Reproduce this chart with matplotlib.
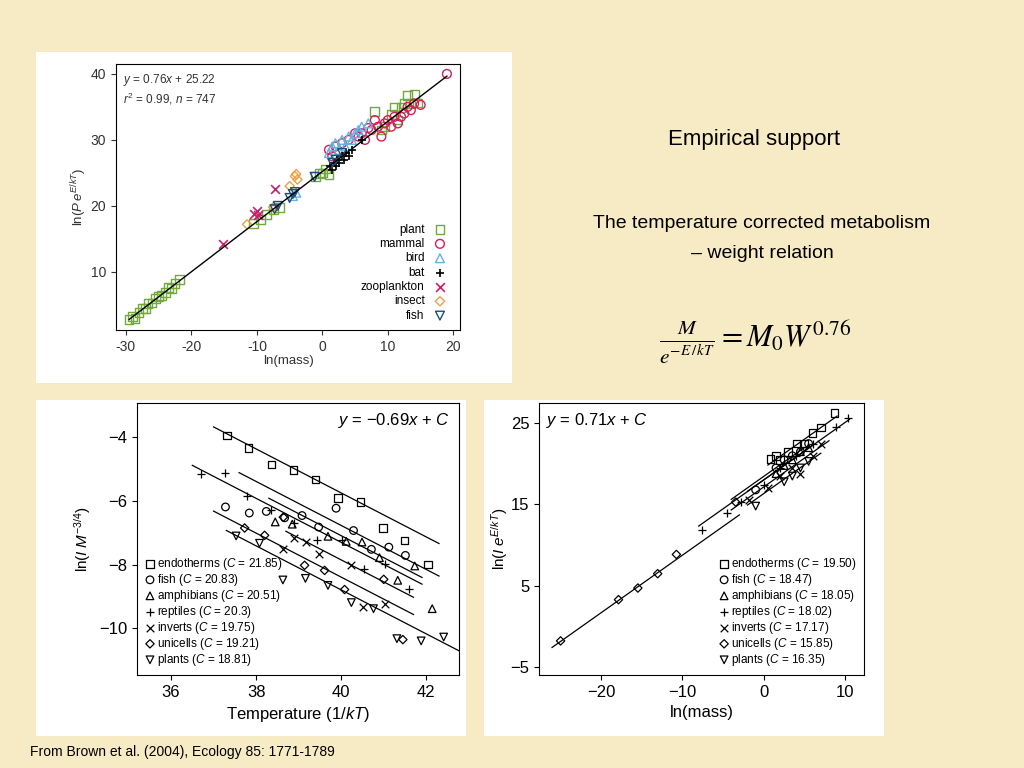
import matplotlib
matplotlib.use("Agg")
import matplotlib.pyplot as plt
import numpy as np

plt.rcParams['font.family'] = ['Liberation Sans', 'DejaVu Sans']
plt.rcParams['mathtext.fontset'] = 'custom'
plt.rcParams['mathtext.rm'] = 'Liberation Sans'
plt.rcParams['mathtext.it'] = 'Liberation Sans:italic'
plt.rcParams['axes.unicode_minus'] = False

# ---- Top panel data ----
top_groups = ["plant", "mammal", "bird", "bat", "zooplankton", "insect", "fish"]
plant_x = [-29.5,-29,-28.6,-28,-27.5,-27,-26.6,-26,-25.5,-25,-24.6,-24,-23.5,-23,-22.5,-21.8,-10.5,-9.5,-8.5,-7.5,-6.5,-1,-0.5,0,0.5,1,9.5,10.5,11,11.5,12,12.5,13,13.5,14,14.5,8,9]
plant_y = [2.8,3.3,3.0,3.9,4.5,4.4,5.2,5.3,6.0,6.3,6.4,6.9,7.6,7.5,8.2,8.9,17.3,17.9,18.7,19.4,19.8,24.5,24.9,25.0,25.6,24.8,32.0,33.8,35.0,33.0,34.9,35.5,36.7,35.5,36.9,35.6,34.3,31.5]
mammal_x = [1,1.5,2,3,4,5,5.5,6,6.5,7,7.5,8,8.5,9,9.5,10,10.5,11,11.5,12,12.5,13,13.5,14,15,19]
mammal_y = [28.5,27.5,29,29.5,30,31,30.5,31,30,31.8,31.5,33,32,30.5,32.5,33,32,33.5,32.5,33.5,34,35,34.5,35.5,35.3,40.0]
bird_x = [-4.5,-4,1,1.5,2,2.5,3,3.5,4,4.5,5,5.5,6,7]
bird_y = [21.5,22,28,29,29.5,28.5,30,29,30.5,30,31,31.5,32,32.5]
bat_x = [1.2,1.5,1.8,2,2.3,2.6,3,3.3,3.6,4,4.5,6]
bat_y = [26,25.5,26.5,26,27,26.5,27.5,27,28,27.5,28.5,30]
zoo_x = [-15.2,-10.5,-10,-9.8,-7.3]
zoo_y = [14.2,18.8,19.3,18.6,22.5]
insect_x = [-11.5,-7.5,-5,-4.2,-4,-3.8]
insect_y = [17.2,19.8,23.0,24.5,24.8,24.0]
fish_x = [-7.3,-6.8,-5,-4.5,-4.2,-1.2,1.5,2,3]
fish_y = [19.5,20.0,21.2,21.8,22.1,24.4,26.5,27,28]
top_slope, top_int = 0.76, 25.22

# ---- Bottom-left data (temperature) ----
bl_labels = ["endotherms", "fish", "amphibians", "reptiles", "inverts", "unicells", "plants"]
bl_C = [21.85, 20.83, 20.51, 20.3, 19.75, 19.21, 18.81]
bl_x = [
    [37.31,37.82,38.36,38.88,39.40,39.93,40.45,40.98,41.49,42.04],
    [37.28,37.84,38.24,38.67,39.08,39.47,39.88,40.29,40.71,41.12,41.51],
    [38.45,38.85,39.69,40.12,40.49,40.90,41.33,41.73,42.14],
    [36.71,37.28,37.79,38.34,38.88,39.43,40.02,40.53,41.04,41.59],
    [38.63,38.90,39.18,39.47,40.24,40.51,41.04],
    [37.73,38.20,38.64,39.14,39.61,40.08,41.00,41.45],
    [37.53,38.08,38.63,39.16,39.69,40.24,40.76,41.31,41.88,42.41],
]
bl_y = [
    [-3.95,-4.35,-4.86,-5.04,-5.33,-5.91,-6.03,-6.85,-7.24,-7.99],
    [-6.19,-6.38,-6.33,-6.53,-6.46,-6.82,-6.23,-6.93,-7.52,-7.45,-7.71],
    [-6.66,-6.73,-7.11,-7.27,-7.29,-7.78,-8.49,-8.04,-9.38],
    [-5.17,-5.13,-5.86,-6.30,-6.69,-7.22,-7.24,-8.15,-7.97,-8.75],
    [-7.52,-7.15,-7.29,-7.68,-8.02,-9.32,-9.22],
    [-6.85,-7.08,-6.51,-8.02,-8.18,-8.78,-8.46,-10.35],
    [-7.10,-7.33,-8.48,-8.43,-8.65,-9.19,-9.38,-10.32,-10.39,-10.27],
]
bl_range = [(37.0,42.3),(37.6,42.3),(38.3,41.9),(36.5,41.9),(38.7,41.7),(37.0,41.7),(37.3,42.8)]
bl_slope = -0.69

# ---- Bottom-right data (mass) ----
br_C = [19.50, 18.47, 18.05, 18.02, 17.17, 15.85, 16.35]
br_x = [
    [0.8,1.5,2,3,4,5,6,7,8.7],
    [-1,1.5,2.5,3.5,4.5,5.5],
    [1.5,2.5,3.5,4.5,5.5],
    [-7.56,-4.48,-2.84,0.04,2,4,6,8.88,10.3],
    [-1.8,0.5,2,3.5,4.5,6,7],
    [-24.95,-17.84,-15.46,-13.03,-10.73,-3.45],
    [-1,2.5,3.5,4.5,5.5],
]
br_y = [
    [20.6,21.0,20.5,21.5,22.5,22.5,23.8,24.5,26.3],
    [16.8,19.5,20.5,21.0,21.5,22.5],
    [18.8,19.8,20.5,21.5,22],
    [11.89,13.93,15.29,17.34,19.5,21,22.5,24.51,25.6],
    [15.5,17.0,18.5,19.5,18.8,21,22.5],
    [-1.80,3.28,4.71,6.48,8.85,15.29],
    [14.8,17.8,18.5,19.5,20.3],
]
br_range = [(0.5,9),(-4,5),(-2,6),(-8,10.5),(-4,8),(-26,-3),(-2,7)]
br_slope = 0.71

markers_bw = ['s','o','^','+','x','D','v']

fig = plt.figure(figsize=(10.24,7.68), dpi=100)
fig.patch.set_facecolor('#f7ebc6')
W, H = 1024, 768
def rect(x0,y0,x1,y1):
    return [x0/W, 1-y1/H, (x1-x0)/W, (y1-y0)/H]

for (x0,y0,x1,y1) in [(36,52,512,383),(36,400,466,736),(484,400,884,736)]:
    bg = fig.add_axes(rect(x0,y0,x1,y1)); bg.set_facecolor('white')
    bg.set_xticks([]); bg.set_yticks([])
    for s in bg.spines.values(): s.set_visible(False)

# ---- Top panel ----
ax = fig.add_axes(rect(116,64,460,330))
xs = np.array([-29.5, 19])
ax.plot(xs, top_slope*xs+top_int, color='black', lw=1)
specs = [
    (plant_x, plant_y, 's', '#72a93a'),
    (mammal_x, mammal_y, 'o', '#d21f5c'),
    (bird_x, bird_y, '^', '#66b2e0'),
    (bat_x, bat_y, '+', 'black'),
    (zoo_x, zoo_y, 'x', '#c8206a'),
    (insect_x, insect_y, 'D', '#e8a34a'),
    (fish_x, fish_y, 'v', '#1d4f7a'),
]
for (x, y, m, c), lab in zip(specs, top_groups):
    if m in ('+','x'):
        ax.scatter(x, y, marker=m, color=c, s=40, lw=1.2, label=lab)
    else:
        ax.scatter(x, y, marker=m, facecolors='none', edgecolors=c, s=22 if m == 'D' else 40, lw=1, label=lab)
ax.set_xlim(-31.5, 21); ax.set_ylim(1.2, 41.5)
ax.set_xticks([-30,-20,-10,0,10,20]); ax.set_yticks([10,20,30,40])
ax.tick_params(labelsize=10, colors='#333333')
ax.set_xlabel('ln(mass)', fontsize=9.5, color='#333333', labelpad=1)
ax.set_ylabel(r'ln($P\,e^{E/kT}$)', fontsize=9.5, color='#333333', labelpad=1)
ax.text(0.02, 0.97, r'$y$ = 0.76$x$ + 25.22', transform=ax.transAxes, fontsize=8.5, va='top', color='#333333')
ax.text(0.02, 0.90, r'$r^2$ = 0.99, $n$ = 747', transform=ax.transAxes, fontsize=8.5, va='top', color='#333333')
ax.legend(loc='lower right', markerfirst=False, frameon=False, fontsize=8.5,
          handletextpad=0.3, labelspacing=0.2, borderaxespad=0.3)

# ---- Bottom-left ----
ax2 = fig.add_axes(rect(137,403,459,675))
for lab, C, x, y, (a,b), m in zip(bl_labels, bl_C, bl_x, bl_y, bl_range, markers_bw):
    xx = np.array([a,b])
    ax2.plot(xx, bl_slope*xx+C, color='black', lw=0.9)
    lbl = f'{lab} ($C$ = {C})'
    if m in ('+','x'):
        ax2.scatter(x, y, marker=m, color='black', s=30, lw=0.9, label=lbl)
    else:
        ax2.scatter(x, y, marker=m, facecolors='none', edgecolors='black', s=18 if m=='D' else 30, lw=0.9, label=lbl)
ax2.set_xlim(35.2, 42.77); ax2.set_ylim(-11.46, -2.93)
ax2.set_xticks([36,38,40,42]); ax2.set_yticks([-4,-6,-8,-10])
ax2.set_yticklabels(['\u22124','\u22126','\u22128','\u221210'])
ax2.tick_params(labelsize=12)
ax2.set_xlabel('Temperature (1/$kT$)', fontsize=12)
ax2.set_ylabel(r'ln($I\;M^{-3/4}$)', fontsize=11)
ax2.text(0.97, 0.97, '$y$ = \u22120.69$x$ + $C$', transform=ax2.transAxes, fontsize=12, ha='right', va='top')
ax2.legend(loc='lower left', frameon=False, fontsize=8.5, handletextpad=0.1, labelspacing=0.0,
           borderaxespad=0.2, handlelength=1)

# ---- Bottom-right ----
ax3 = fig.add_axes(rect(539,403,864,675))
for lab, C, x, y, (a,b), m in zip(bl_labels, br_C, br_x, br_y, br_range, markers_bw):
    xx = np.array([a,b])
    ax3.plot(xx, br_slope*xx+C, color='black', lw=0.9)
    lbl = f'{lab} ($C$ = {C:.2f})'
    if m in ('+','x'):
        ax3.scatter(x, y, marker=m, color='black', s=30, lw=0.9, label=lbl)
    else:
        ax3.scatter(x, y, marker=m, facecolors='none', edgecolors='black', s=18 if m=='D' else 30, lw=0.9, label=lbl)
ax3.set_xlim(-27.6, 12.3); ax3.set_ylim(-6.0, 27.5)
ax3.set_xticks([-20,-10,0,10]); ax3.set_yticks([-5,5,15,25])
ax3.set_xticklabels(['\u221220','\u221210','0','10']); ax3.set_yticklabels(['\u22125','5','15','25'])
ax3.tick_params(labelsize=12)
ax3.set_xlabel('ln(mass)', fontsize=12)
ax3.set_ylabel(r'ln($I\;e^{E/kT}$)', fontsize=11, labelpad=0)
ax3.text(0.02, 0.97, r'$y$ = 0.71$x$ + $C$', transform=ax3.transAxes, fontsize=12, va='top')
ax3.legend(loc='lower right', frameon=False, fontsize=8.5, handletextpad=0.1, labelspacing=0.0,
           borderaxespad=0.2, handlelength=1)

# ---- Slide text ----
fig.text(754/W, 1-139/H, 'Empirical support', fontsize=16, ha='center', va='center')
fig.text(762/W, 1-224/H, 'The temperature corrected metabolism', fontsize=14, ha='center', va='center')
fig.text(762/W, 1-254/H, '\u2013 weight relation', fontsize=14, ha='center', va='center')
fig.text(755/W, 1-342/H, r'$\frac{M}{e^{-E\,/\,kT}} = M_0 W^{0.76}$', fontsize=22,
         ha='center', va='center', math_fontfamily='stix')
fig.text(30/W, 1-752/H, 'From Brown et al. (2004), Ecology 85: 1771-1789', fontsize=10, ha='left', va='center')

fig.savefig('out.png', dpi=100, facecolor=fig.get_facecolor())
